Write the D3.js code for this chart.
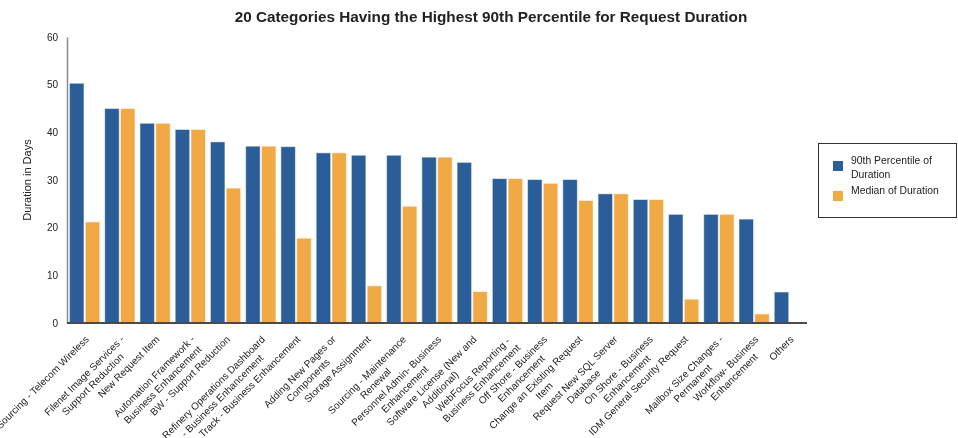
<!DOCTYPE html>
<html>
<head>
<meta charset="utf-8">
<script src="https://cdn.jsdelivr.net/npm/d3@7"></script>
<style>
  body { margin: 0; background: #fff; }
  svg { will-change: transform; }
  text { font-family: "Liberation Sans", Arial, sans-serif; fill: #222; }
</style>
</head>
<body>
<div id="dataviz"></div>
<script>
// category labels, each split into its wrapped lines
var categories = [
  ["Sourcing - Telecom Wireless"],
  ["Filenet Image Services -", "Support Reduction"],
  ["New Request Item"],
  ["Automation Framework -", "Business Enhancement"],
  ["BW - Support Reduction"],
  ["Refinery Operations Dashboard", "- Business Enhancement"],
  ["Track - Business Enhancement"],
  ["Adding New Pages or", "Components"],
  ["Storage Assignment"],
  ["Sourcing - Maintenance", "Renewal"],
  ["Personnel Admin- Business", "Enhancement"],
  ["Software License (New and", "Additional)"],
  ["WebFocus Reporting -", "Business Enhancement"],
  ["Off Shore - Business", "Enhancement"],
  ["Change an Existing Request", "Item"],
  ["Request New SQL Server", "Database"],
  ["On Shore - Business", "Enhancement"],
  ["IDM General Security Request"],
  ["Mailbox Size Changes -", "Permanent"],
  ["Workflow- Business", "Enhancement"],
  ["Others"]
];

var p90 = [50.3, 45.0, 41.9, 40.6, 38.0, 37.1, 37.0, 35.7, 35.2, 35.2, 34.8,
           33.7, 30.3, 30.1, 30.1, 27.1, 25.9, 22.8, 22.8, 21.8, 6.5];
var median = [21.2, 45.0, 41.9, 40.6, 28.3, 37.1, 17.8, 35.7, 7.8, 24.5, 34.8,
              6.6, 30.3, 29.3, 25.7, 27.1, 25.9, 5.0, 22.8, 1.9, 0];

var seriesNames = ["90th Percentile of Duration", "Median of Duration"];
var legendLines = [["90th Percentile of", "Duration"], ["Median of Duration"]];
var colors = ["#2b5d98", "#f0a944"];
var yTicks = [0, 10, 20, 30, 40, 50, 60];

var width = 958, height = 438;
var margin = {top: 37, right: 151, bottom: 115, left: 67};

var svg = d3.select("#dataviz")
  .append("svg")
    .attr("width", width)
    .attr("height", height);

var data = categories.map(function(c, i) {
  return {key: i, label: c, values: [p90[i], median[i]]};
});

// scales
var x0 = d3.scaleBand()
  .domain(d3.range(categories.length))
  .range([margin.left, width - margin.right])
  .paddingInner(0.14)
  .paddingOuter(0.07);

var x1 = d3.scaleBand()
  .domain([0, 1])
  .range([0, x0.bandwidth()])
  .paddingInner(0.08);

var y = d3.scaleLinear()
  .domain([0, 60])
  .range([height - margin.bottom, margin.top]);

// title
svg.append("text")
  .attr("x", 491)
  .attr("y", 22)
  .attr("text-anchor", "middle")
  .style("font-size", "15.3px")
  .style("font-weight", "bold")
  .text("20 Categories Having the Highest 90th Percentile for Request Duration");

// y axis
var yAxis = svg.append("g")
  .attr("transform", "translate(" + margin.left + ",0)")
  .call(d3.axisLeft(y).tickValues(yTicks).tickSize(0).tickPadding(9));
yAxis.select(".domain").attr("stroke", "#8a8a8a").attr("stroke-width", 1.5);
yAxis.selectAll("text")
  .style("font-size", "10px")
  .style("font-family", "Liberation Sans, Arial, sans-serif")
  .attr("fill", "#222");

// y axis label
svg.append("text")
  .attr("transform", "translate(31," + ((margin.top + height - margin.bottom) / 2) + ") rotate(-90)")
  .attr("text-anchor", "middle")
  .style("font-size", "11px")
  .text("Duration in Days");

// bars
var groups = svg.selectAll(".group")
  .data(data)
  .enter()
  .append("g")
    .attr("class", "group")
    .attr("transform", function(d) { return "translate(" + x0(d.key) + ",0)"; });

groups.selectAll("rect")
  .data(function(d) { return d.values.map(function(v, j) { return {s: j, v: v}; }); })
  .enter()
  .append("rect")
    .filter(function(d) { return d.v > 0; })
    .attr("x", function(d) { return x1(d.s); })
    .attr("y", function(d) { return y(d.v); })
    .attr("width", x1.bandwidth())
    .attr("height", function(d) { return y(0) - y(d.v); })
    .attr("fill", function(d) { return colors[d.s]; })
    .attr("stroke", "#ffffff")
    .attr("stroke-opacity", 0.55)
    .attr("stroke-width", 1);

// x axis line
svg.append("line")
  .attr("x1", margin.left)
  .attr("x2", width - margin.right)
  .attr("y1", y(0))
  .attr("y2", y(0))
  .attr("stroke", "#4a4a4a")
  .attr("stroke-width", 2);

// category labels, rotated -45 with wrapped lines centred
var labels = svg.selectAll(".cat")
  .data(data)
  .enter()
  .append("text")
    .attr("class", "cat")
    .attr("fill", "#222")
    .style("font-size", "10px")
    .attr("transform", function(d) {
      return "translate(" + (x0(d.key) + x0.bandwidth() / 2 + 5) + "," + (y(0) + 17) + ") rotate(-45)";
    });

labels.each(function(d) {
  var t = d3.select(this);
  var spans = d.label.map(function(line, k) {
    return t.append("tspan")
      .attr("x", 0)
      .attr("y", k * 12)
      .text(line);
  });
  var w = d3.max(spans, function(s) { return s.node().getComputedTextLength(); });
  spans.forEach(function(s) {
    s.attr("x", -w / 2).attr("text-anchor", "middle");
  });
});

// legend
var legend = svg.append("g");
legend.append("rect")
  .attr("x", 818.5)
  .attr("y", 143.5)
  .attr("width", 138)
  .attr("height", 74)
  .attr("fill", "none")
  .attr("stroke", "#333")
  .attr("stroke-width", 1);

var legendTop = [161, 191];
seriesNames.forEach(function(name, i) {
  legend.append("rect")
    .attr("x", 833)
    .attr("y", legendTop[i])
    .attr("width", 10)
    .attr("height", 10)
    .attr("fill", colors[i]);
  var t = legend.append("text")
    .style("font-size", "10.4px");
  legendLines[i].forEach(function(line, k) {
    t.append("tspan")
      .attr("x", 851)
      .attr("y", legendTop[i] + 3 + k * 14)
      .text(line);
  });
});
</script>
</body>
</html>
